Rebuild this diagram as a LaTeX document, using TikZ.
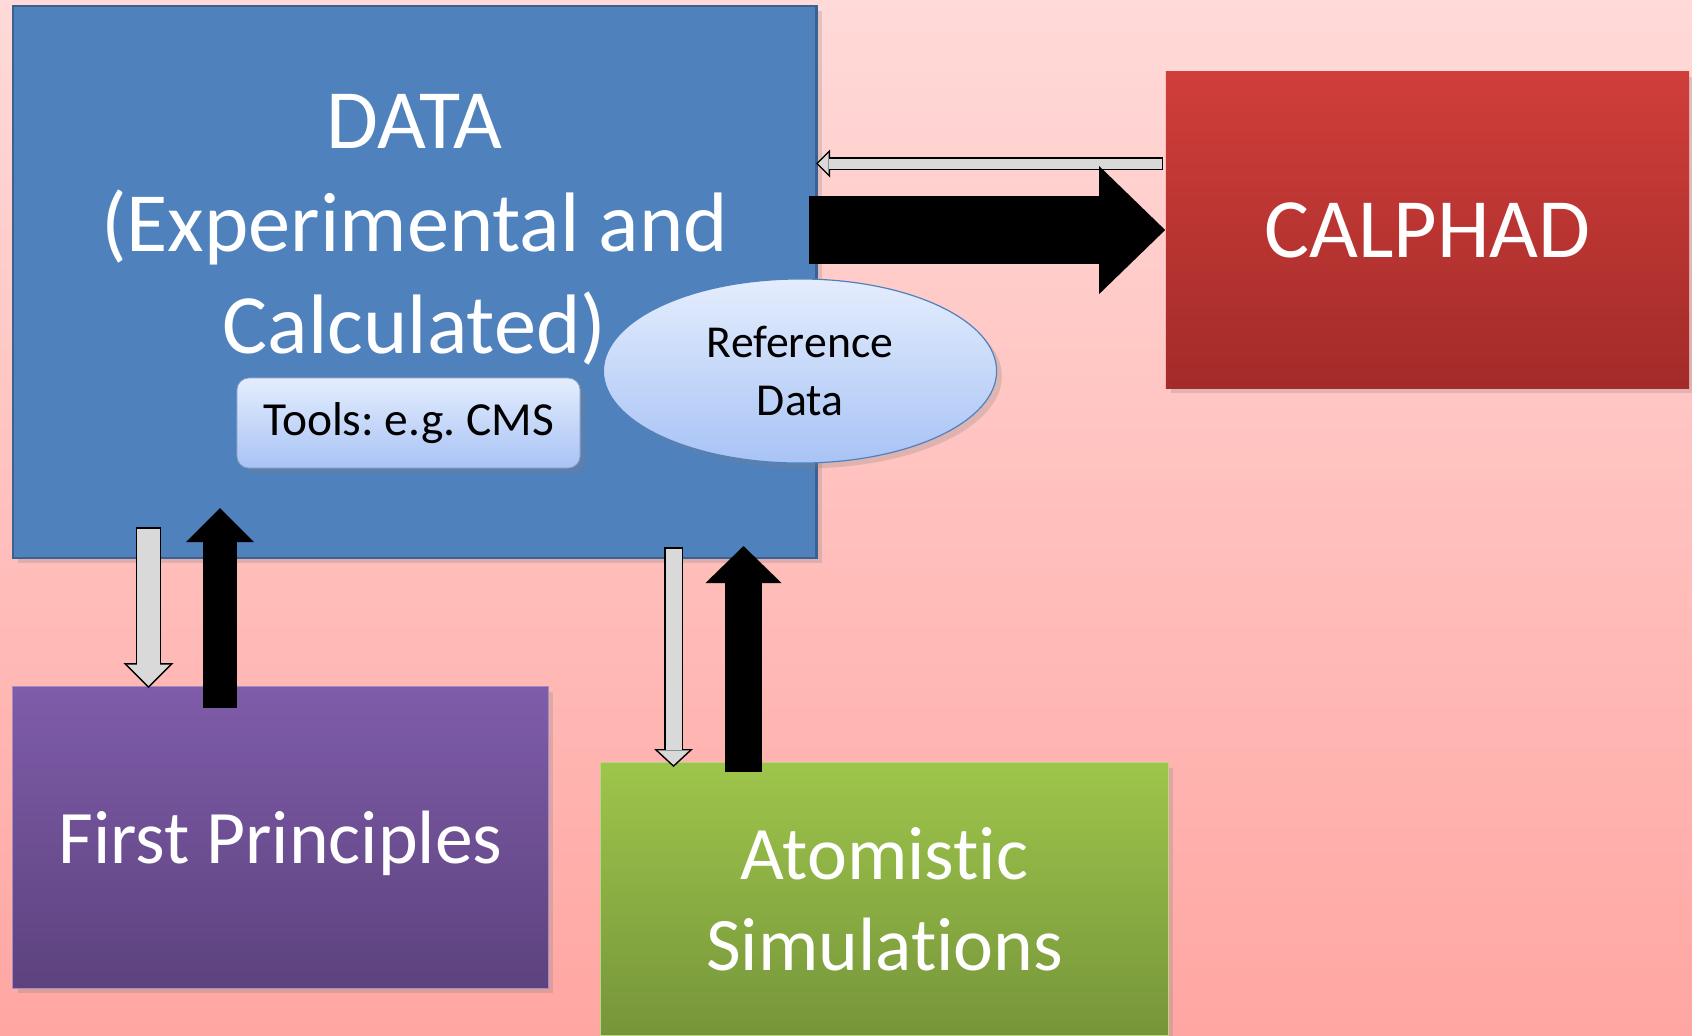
\documentclass[tikz,border=0pt]{standalone}
\usepackage{fontspec}
\setmainfont{Carlito}[Ligatures=NoCommon]
\frenchspacing
\usetikzlibrary{positioning,arrows.meta,shapes.geometric,shadows}

\definecolor{bgtop}{HTML}{FFDAD8}
\definecolor{bgbot}{HTML}{FFA6A2}
\definecolor{datablue}{HTML}{4F81BD}
\definecolor{databorder}{HTML}{3A6190}
\definecolor{calphadtop}{HTML}{D03E3A}
\definecolor{calphadbot}{HTML}{A32B29}
\definecolor{fptop}{HTML}{7F5CA9}
\definecolor{fpbot}{HTML}{5C427E}
\definecolor{atomtop}{HTML}{9EC54B}
\definecolor{atombot}{HTML}{76953A}
\definecolor{pilltop}{HTML}{E4EDFD}
\definecolor{pillbot}{HTML}{A8C3F5}
\definecolor{arrowgray}{HTML}{D9D9D9}

\tikzset{
  box/.style={rectangle, inner sep=0pt, text=white, align=center},
  softshadow/.style={drop shadow={opacity=0.25, shadow xshift=1.5pt, shadow yshift=-1.5pt}},
  pill/.style={inner sep=0pt, text=black, align=center, top color=pilltop, bottom color=pillbot, softshadow},
  fat/.style n args={3}{line width=#1, line cap=butt, -{Triangle[length=#2, width=#3, line width=0pt]}},
  hollowout/.style n args={3}{fat={#1}{#2}{#3}, draw=black},
  hollowin/.style n args={3}{fat={#1}{#2}{#3}, draw=arrowgray, shorten <=0.015cm, shorten >=0.021cm},
}

\begin{document}
\begin{tikzpicture}[x=0.01cm, y=-0.01cm]
  \useasboundingbox (0,0) rectangle (1692,1035);
  \shade[top color=bgtop, bottom color=bgbot] (0,0) rectangle (1692,1035);

  % the four boxes
  \node[box, softshadow, fill=datablue, draw=databorder, line width=0.025cm,
        minimum width=8.03cm, minimum height=5.52cm] (data) at (414.5,282) {};
  \node[anchor=north, inner sep=0pt, text=white, align=center,
        font=\fontsize{24}{29.2}\selectfont, below=0.89cm of data.north] (datatext)
        {DATA\\(Experimental and\\Calculated)};
  \node[box, softshadow, top color=calphadtop, bottom color=calphadbot,
        minimum width=5.23cm, minimum height=3.16cm,
        font=\fontsize{24}{29}\selectfont] (calphad) at (1427.5,230) {CALPHAD};
  \node[box, softshadow, top color=fptop, bottom color=fpbot, draw=fptop!70!white, line width=0.01cm,
        minimum width=5.35cm, minimum height=3.01cm, text depth=0pt,
        font=\fontsize{21.5}{26}\selectfont] (fp) at (280.5,837.5) {First Principles};
  \node[box, softshadow, top color=atomtop, bottom color=atombot, draw=atomtop!70!white, line width=0.01cm,
        minimum width=5.67cm, minimum height=2.72cm,
        font=\fontsize{21.5}{26}\selectfont] (atom) at (884.5,899) {Atomistic\\Simulations};

  % tool and reference data
  \node[pill, rounded corners=0.12cm, draw=pillbot!80!black, line width=0.008cm,
        minimum width=3.43cm, minimum height=0.9cm,
        font=\fontsize{13.5}{16}\selectfont] (tools) at (408.5,423) {Tools: e.g. CMS};
  \node[pill, ellipse, draw=datablue, line width=0.012cm,
        minimum width=3.93cm, minimum height=1.84cm,
        font=\fontsize{13}{16.5}\selectfont] (refdata) at (800,371) {Reference\\Data};

  % arrows
  \coordinate (tback) at (1163,163.5);
  \coordinate (ttip) at (816,163.5);
  \coordinate (bstart) at (809,230);
  \coordinate (fpdown1) at (148.5,527);
  \coordinate (fpdown2) at (148.5,688);
  \coordinate (fpup1) at (220,708);
  \coordinate (fpup2) at (220,508);
  \coordinate (atdown1) at (673.5,547);
  \coordinate (atdown2) at (673.5,767);
  \coordinate (atup1) at (743.5,772);
  \coordinate (atup2) at (743.5,546);

  \draw[hollowout={0.13cm}{0.14cm}{0.28cm}] (tback) -- (ttip);
  \draw[hollowin={0.10cm}{0.104cm}{0.208cm}] (tback) -- (ttip);
  \draw[fat={0.67cm}{0.66cm}{1.28cm}] (bstart) -- (calphad.west);

  \draw[hollowout={0.25cm}{0.25cm}{0.50cm}] (fpdown1) -- (fpdown2);
  \draw[hollowin={0.22cm}{0.214cm}{0.428cm}] (fpdown1) -- (fpdown2);
  \draw[fat={0.34cm}{0.34cm}{0.68cm}] (fpup1) -- (fpup2);

  \draw[hollowout={0.19cm}{0.18cm}{0.39cm}] (atdown1) -- (atdown2);
  \draw[hollowin={0.16cm}{0.145cm}{0.313cm}] (atdown1) -- (atdown2);
  \draw[fat={0.37cm}{0.37cm}{0.76cm}] (atup1) -- (atup2);
\end{tikzpicture}
\end{document}
